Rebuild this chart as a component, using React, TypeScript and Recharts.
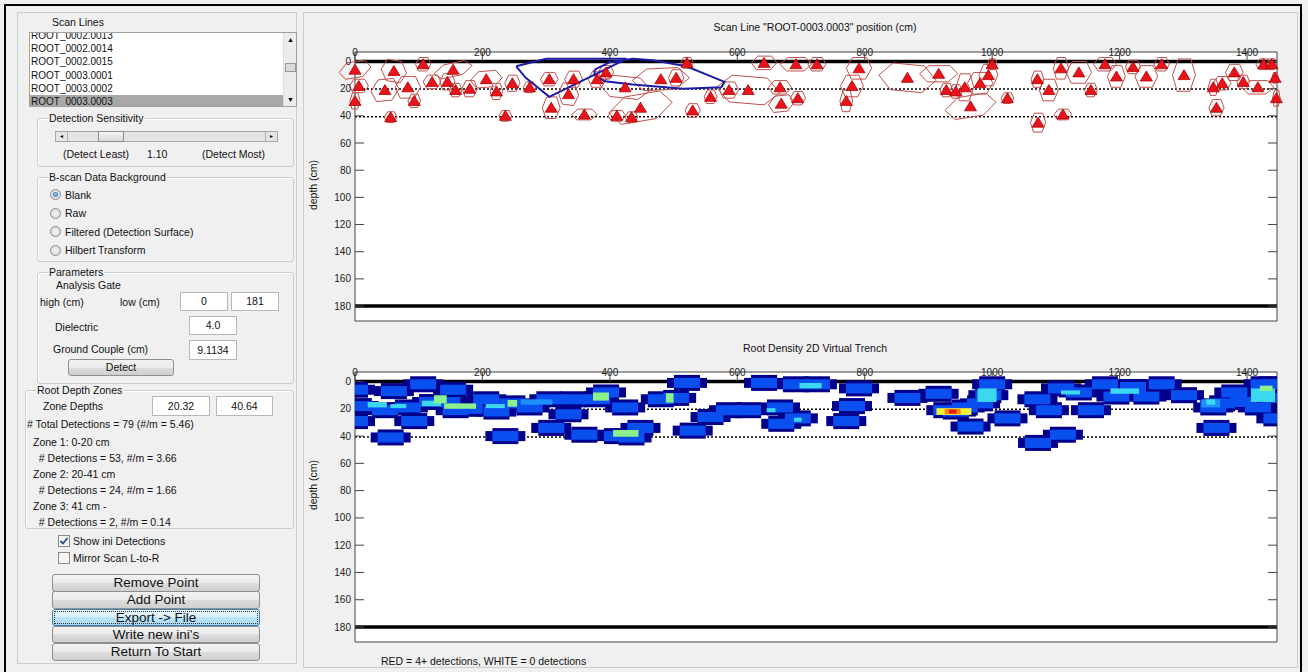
import React from 'react'
import { ScatterChart, Scatter, XAxis, YAxis, ReferenceLine, CartesianGrid } from 'recharts'

const scanLines = ['ROOT_0002.0013', 'ROOT_0002.0014', 'ROOT_0002.0015', 'ROOT_0003.0001', 'ROOT_0003.0002', 'ROOT_0003.0003']
const backgrounds = ['Blank', 'Raw', 'Filtered (Detection Surface)', 'Hilbert Transform']
const zoneLines = [
	'Zone 1: 0-20 cm',
	'  # Detections = 53, #/m = 3.66',
	'Zone 2: 20-41 cm',
	'  # Detections = 24, #/m = 1.66',
	'Zone 3: 41 cm -',
	'  # Detections = 2, #/m = 0.14',
]
const buttons = ['Remove Point', 'Add Point', 'Export -> File', "Write new ini's", 'Return To Start']

const positionTicks = [0, 200, 400, 600, 800, 1000, 1200, 1400]
const depthTicks = [0, 20, 40, 60, 80, 100, 120, 140, 160, 180]
const positionDomain = [0, 1447]
const depthDomain = [-7, 191]
const groundLines = [0, 180]
const zoneDepths = [20.32, 40.64]

// detection: [position, depth, outline half-width, outline half-height, outline tilt]  (cm)
const detections = [
	[0, 6, 25, 6, 4], [6, 18, 15, 5, 0], [0, 29, 8, 6, 0], [61, 7, 20, 8, -3], [107, 2, 12, 5, 0],
	[47, 21, 22, 8, 2], [56, 41, 10, 4, 0], [83, 19, 20, 8, 0], [93, 29, 10, 5, 0], [121, 15, 14, 5, 0],
	[145, 15, 12, 6, 0], [154, 6, 30, 5, 6], [158, 21, 10, 5, 0], [180, 20, 12, 6, 0], [206, 13, 25, 6, 2],
	[222, 22, 10, 6, 0], [236, 40, 10, 4, 0], [247, 16, 12, 6, 0], [274, 19, 10, 4, 0], [305, 13, 14, 5, 0],
	[308, 34, 14, 8, 0], [335, 24, 16, 8, -2], [343, 13, 14, 6, 0], [360, 39, 20, 4, 0], [380, 13, 14, 6, 0],
	[394, 8, 12, 5, 0], [411, 40, 14, 4, 0], [424, 19, 40, 8, -4], [434, 41, 10, 4, 0], [448, 34, 50, 10, 8],
	[480, 13, 45, 8, 2], [504, 12, 12, 6, 0], [521, 1, 10, 4, 0], [530, 36, 12, 5, 0], [558, 26, 10, 5, 0],
	[587, 21, 15, 6, 0], [617, 21, 50, 10, -4], [642, 1, 20, 5, 0], [667, 19, 18, 5, 0], [669, 31, 20, 6, 2],
	[692, 2, 25, 5, 0], [695, 27, 12, 5, 0], [725, 2, 14, 5, 0], [791, 5, 20, 8, 0], [780, 18, 18, 8, 0],
	[771, 29, 10, 8, 0], [867, 12, 45, 10, -4], [916, 9, 30, 6, 0], [928, 21, 10, 5, 0], [943, 22, 10, 5, 0],
	[957, 19, 14, 10, 0], [981, 16, 20, 8, 0], [994, 10, 15, 8, 0], [1000, 2, 8, 4, 0], [966, 33, 40, 8, 6],
	[1024, 27, 10, 4, 0], [1071, 13, 10, 6, 0], [1072, 45, 12, 7, 0], [1089, 21, 15, 8, 0], [1108, 5, 12, 8, 0],
	[1111, 39, 14, 4, 0], [1136, 8, 20, 8, 0], [1155, 21, 10, 5, 0], [1177, 2, 18, 5, 0], [1195, 11, 14, 8, 0],
	[1221, 4, 12, 5, 0], [1242, 11, 18, 8, 0], [1266, 2, 12, 5, 0], [1301, 10, 18, 12, 0], [1347, 19, 8, 6, 0],
	[1361, 16, 14, 5, 0], [1352, 34, 12, 6, 0], [1380, 8, 14, 6, 0], [1394, 15, 10, 5, 0], [1417, 19, 25, 5, 0],
	[1426, 2, 12, 4, 0], [1439, 2, 8, 4, 0], [1444, 12, 5, 4, 0], [1446, 27, 6, 6, 0],
]

// hand drawn blue outlines [position, depth]
const outlineA = [[253, 3.5], [300, -2], [426, -2], [373, 10.4], [305, 26], [268, 12], [253, 3.5]]
const outlineB = [
	[376, 6], [400, 0.5], [436, -2], [468, -1], [520, 3.5], [580, 15], [575, 19],
	[515, 20], [436, 17], [392, 14.5], [376, 10], [376, 6],
]

// brighter cells of the density map: [position, depth, span x, span depth, level]
const densityPeaks = [
	[35, 17, 30, 4, 2], [68, 18, 25, 3, 2], [120, 16, 30, 4, 2], [134, 13, 20, 6, 3], [165, 18, 50, 4, 3],
	[220, 18, 30, 3, 2], [247, 16, 15, 5, 3], [285, 15, 50, 4, 1], [386, 11, 25, 6, 3], [494, 12, 12, 7, 3],
	[425, 38, 40, 5, 3], [653, 21, 14, 3, 2], [695, 28, 12, 3, 2], [715, 3, 35, 4, 2], [940, 22, 55, 5, 4],
	[938, 22, 25, 4, 5], [938, 22, 12, 3, 6], [992, 10, 30, 10, 2], [1123, 8, 30, 3, 2], [1208, 7, 45, 4, 2],
	[1343, 16, 30, 6, 1], [1343, 15, 14, 4, 2], [1425, 10, 38, 10, 2], [1430, 5, 20, 4, 3],
]

const detectionRows = detections.map(([x, d, w, h, t]) => ({ x, d, w, h, t }))
const outlineRowsA = outlineA.map(([x, d]) => ({ x, d }))
const outlineRowsB = outlineB.map(([x, d]) => ({ x, d }))
const peakRows = densityPeaks.map(([x, d, w, h, level]) => ({ x, d, w, h, level }))

const KX = 920 / (positionDomain[1] - positionDomain[0])
const KY = 267 / (depthDomain[1] - depthDomain[0])
const heatColors = ['#00008c', '#1e90ff', '#3cd8f0', '#8cf08c', '#f0f03c', '#ff8c00', '#e02010']
const FONT = '"Liberation Sans", Arial, sans-serif'

const Triangle = (p: any) => (
	<path
		d={`M${p.cx},${p.cy - 5.5} L${p.cx + 6},${p.cy + 4.5} L${p.cx - 6},${p.cy + 4.5} Z`}
		fill="#e8141c"
		stroke="#b00000"
		strokeWidth={0.8}
	/>
)

const Outline = (p: any) => {
	const { cx, cy, payload } = p
	const w = payload.w * KX
	const h = payload.h * KY
	const t = payload.t * KY
	const pts = [
		[cx - w, cy + t * 0.5],
		[cx - 0.5 * w, cy - h + t * 0.25],
		[cx + 0.6 * w, cy - h - t * 0.3],
		[cx + w, cy - t * 0.5],
		[cx + 0.5 * w, cy + h - t * 0.25],
		[cx - 0.6 * w, cy + h + t * 0.3],
	]
	return (
		<polygon
			points={pts.map((q) => q.join(',')).join(' ')}
			fill="none"
			stroke="#c0504d"
			strokeWidth={1}
			strokeLinejoin="round"
		/>
	)
}

const BlobOuter = (p: any) => (
	<g fill="#00008c">
		<rect x={p.cx - 20} y={p.cy - 5} width={40} height={10} />
		<rect x={p.cx - 13} y={p.cy - 8} width={26} height={16} />
	</g>
)

const BlobInner = (p: any) => <rect x={p.cx - 13} y={p.cy - 5} width={26} height={10} fill="#0a50f0" />

const Peak = (p: any) => {
	const { cx, cy, payload } = p
	const w = payload.w * KX
	const h = payload.h * KY
	return <rect x={cx - w / 2} y={cy - h / 2} width={w} height={h} fill={heatColors[payload.level]} />
}

const Nothing = () => <g />

const tickText = { fill: '#222', fontSize: 10, fontFamily: FONT }

function Frame({ height, top, bottom, clip, children }: any) {
	return (
		<ScatterChart width={1308} height={height} margin={{ top, right: 31, bottom, left: 355 }}>
			<CartesianGrid horizontal={false} vertical={false} fill="#ffffff" />
			<XAxis
				type="number"
				dataKey="x"
				domain={positionDomain}
				ticks={positionTicks}
				orientation="top"
				height={1}
				mirror
				tickSize={9}
				tickMargin={-12}
				allowDataOverflow={clip}
				stroke="#444"
				tick={{ ...tickText, verticalAnchor: 'end' }}
			/>
			<XAxis
				xAxisId="b"
				type="number"
				domain={positionDomain}
				ticks={positionTicks}
				orientation="bottom"
				height={1}
				mirror
				tickSize={9}
				tickFormatter={() => ''}
				allowDataOverflow
				stroke="#444"
			/>
			<YAxis
				type="number"
				dataKey="d"
				domain={depthDomain}
				ticks={depthTicks}
				reversed
				width={1}
				mirror
				tickSize={9}
				tickMargin={-13}
				allowDataOverflow={clip}
				stroke="#444"
				tick={{ ...tickText, textAnchor: 'end' }}
			/>
			<YAxis
				yAxisId="r"
				type="number"
				domain={depthDomain}
				ticks={depthTicks}
				reversed
				orientation="right"
				width={1}
				mirror
				tickSize={9}
				tickFormatter={() => ''}
				allowDataOverflow
				stroke="#444"
			/>
			{children}
		</ScatterChart>
	)
}

const lines = () => [
	...groundLines.map((y) => <ReferenceLine key={'g' + y} y={y} stroke="#000" strokeWidth={3.5} />),
	...zoneDepths.map((y) => (
		<ReferenceLine key={'z' + y} y={y} stroke="#000" strokeWidth={1.5} strokeDasharray="2 2" />
	)),
]

// ---- little windows widgets ----
const Txt = ({ x, y, size = 10.5, children, style }: any) => (
	<div
		style={{
			position: 'absolute',
			left: x,
			top: y - size * 0.6,
			fontSize: size,
			lineHeight: 1.2,
			whiteSpace: 'pre',
			color: '#111',
			...style,
		}}
	>
		{children}
	</div>
)

const Group = ({ x, y, w, h, title }: any) => (
	<div
		style={{
			position: 'absolute',
			left: x,
			top: y,
			width: w,
			height: h,
			border: '1px solid #c9ced3',
			borderRadius: 3,
			boxShadow: 'inset 1px 1px 0 #fff',
		}}
	>
		<span
			style={{
				position: 'absolute',
				left: 10,
				top: -7,
				fontSize: 10.5,
				lineHeight: '13px',
				background: '#f0f0f0',
				padding: '0 1px',
				color: '#111',
			}}
		>
			{title}
		</span>
	</div>
)

const Edit = ({ x, y, w, h = 19, value }: any) => (
	<div
		style={{
			position: 'absolute',
			left: x,
			top: y,
			width: w,
			height: h,
			background: '#fff',
			border: '1px solid #b5b9bf',
			boxSizing: 'border-box',
			fontSize: 10.5,
			textAlign: 'center',
			lineHeight: `${h - 2}px`,
			color: '#111',
		}}
	>
		{value}
	</div>
)

const Button = ({ x, y, w, h, label, size = 10.5, focus }: any) => (
	<div
		style={{
			position: 'absolute',
			left: x,
			top: y,
			width: w,
			height: h,
			boxSizing: 'border-box',
			border: focus ? '1px solid #3c7fb1' : '1px solid #8e8f8f',
			borderRadius: 3,
			background: focus
				? 'linear-gradient(#eaf6fd, #d9f0fc 50%, #bee6fd 50%, #a7d9f5)'
				: 'linear-gradient(#f2f2f2, #ebebeb 50%, #dddddd 50%, #cfcfcf)',
			fontSize: size,
			textAlign: 'center',
			lineHeight: `${h - 2}px`,
			color: '#111',
			outline: focus ? '1px dotted #333' : 'none',
			outlineOffset: -3,
		}}
	>
		{label}
	</div>
)

const Radio = ({ x, y, checked }: any) => (
	<div
		style={{
			position: 'absolute',
			left: x,
			top: y - 6,
			width: 11,
			height: 11,
			borderRadius: '50%',
			border: '1px solid #8a8a8a',
			background: 'radial-gradient(#f4f4f4, #d4d4d4)',
			boxSizing: 'border-box',
		}}
	>
		{checked && (
			<div
				style={{
					position: 'absolute',
					left: 2,
					top: 2,
					width: 5,
					height: 5,
					borderRadius: '50%',
					background: 'radial-gradient(#8fd0ff, #1f5fb0)',
				}}
			/>
		)}
	</div>
)

const Check = ({ x, y, checked }: any) => (
	<svg style={{ position: 'absolute', left: x, top: y - 6 }} width={12} height={12}>
		<rect x={0.5} y={0.5} width={11} height={11} fill="#f4f4f4" stroke="#8a8a8a" />
		{checked && <path d="M2.5,6 L5,8.5 L9.5,3" fill="none" stroke="#2a4a8a" strokeWidth={1.8} />}
	</svg>
)

function LeftPanel() {
	return (
		<>
			<div
				style={{
					position: 'absolute',
					left: 17,
					top: 12,
					width: 280,
					height: 652,
					border: '1px solid #c9ced3',
					boxSizing: 'border-box',
				}}
			/>
			<Txt x={52} y={22}>Scan Lines</Txt>
			<div
				style={{
					position: 'absolute',
					left: 29,
					top: 32,
					width: 268,
					height: 75,
					background: '#fff',
					border: '1px solid #a0a0a0',
					boxSizing: 'border-box',
					overflow: 'hidden',
				}}
			>
				{scanLines.map((s, i) => (
					<div
						key={s}
						style={{
							position: 'absolute',
							left: 0,
							top: -4 + i * 13.2,
							width: 256,
							height: 13,
							fontSize: 10,
							lineHeight: '13px',
							paddingLeft: 1,
							background: i === scanLines.length - 1 ? '#a8a8a8' : 'transparent',
							color: '#111',
						}}
					>
						{s}
					</div>
				))}
				<div
					style={{
						position: 'absolute',
						right: 0,
						top: 0,
						width: 12,
						height: 73,
						background: '#ececec',
						borderLeft: '1px solid #ddd',
					}}
				>
					<div style={{ position: 'absolute', left: 3, top: 3, fontSize: 7 }}>▲</div>
					<div
						style={{
							position: 'absolute',
							left: 1,
							top: 30,
							width: 9,
							height: 7,
							background: '#dadada',
							border: '1px solid #999',
						}}
					/>
					<div style={{ position: 'absolute', left: 3, bottom: 3, fontSize: 7 }}>▼</div>
				</div>
			</div>

			<Group x={37} y={118} w={255} h={47} title="Detection Sensitivity" />
			<div
				style={{
					position: 'absolute',
					left: 55,
					top: 131,
					width: 223,
					height: 11,
					background: '#e4e4e4',
					border: '1px solid #a8a8a8',
					boxSizing: 'border-box',
				}}
			>
				<div style={{ position: 'absolute', left: 0, top: 0, width: 11, height: 9, borderRight: '1px solid #b0b0b0', fontSize: 6, textAlign: 'center', lineHeight: '9px' }}>◂</div>
				<div style={{ position: 'absolute', left: 42, top: -1, width: 26, height: 11, background: 'linear-gradient(#f6f6f6,#d8d8d8)', border: '1px solid #8e8e8e', boxSizing: 'border-box' }} />
				<div style={{ position: 'absolute', right: 0, top: 0, width: 11, height: 9, borderLeft: '1px solid #b0b0b0', fontSize: 6, textAlign: 'center', lineHeight: '9px' }}>▸</div>
			</div>
			<Txt x={63} y={154}>(Detect Least)</Txt>
			<Txt x={147} y={154}>1.10</Txt>
			<Txt x={202} y={154}>(Detect Most)</Txt>

			<Group x={37} y={177} w={255} h={83} title="B-scan Data Background" />
			{backgrounds.map((b, i) => (
				<React.Fragment key={b}>
					<Radio x={50} y={195 + i * 18.5} checked={i === 0} />
					<Txt x={65} y={195 + i * 18.5}>{b}</Txt>
				</React.Fragment>
			))}

			<Group x={37} y={272} w={255} h={110} title="Parameters" />
			<Txt x={56} y={285}>Analysis Gate</Txt>
			<Txt x={40} y={302}>high (cm)</Txt>
			<Txt x={120} y={302}>low (cm)</Txt>
			<Edit x={180} y={292} w={48} value="0" />
			<Edit x={231} y={292} w={48} value="181" />
			<Txt x={55} y={327}>Dielectric</Txt>
			<Edit x={189} y={316} w={48} value="4.0" />
			<Txt x={53} y={349}>Ground Couple (cm)</Txt>
			<Edit x={189} y={340} w={48} h={20} value="9.1134" />
			<Button x={68} y={359} w={106} h={17} label="Detect" />

			<Group x={25} y={390} w={267} h={137} title="Root Depth Zones" />
			<Txt x={43} y={406}>Zone Depths</Txt>
			<Edit x={152} y={396} w={58} h={20} value="20.32" />
			<Edit x={216} y={396} w={57} h={20} value="40.64" />
			<Txt x={27} y={424}># Total Detections = 79 (#/m = 5.46)</Txt>
			{zoneLines.map((s, i) => (
				<Txt key={s} x={33} y={442 + i * 16}>{s}</Txt>
			))}

			<Check x={58} y={541} checked />
			<Txt x={73} y={541}>Show ini Detections</Txt>
			<Check x={58} y={558} checked={false} />
			<Txt x={73} y={558}>Mirror Scan L-to-R</Txt>

			{buttons.map((b, i) => (
				<Button key={b} x={52} y={574 + i * 17.3} w={208} h={17.5} label={b} size={13.5} focus={i === 2} />
			))}
		</>
	)
}

export default function App() {
	return (
		<div
			style={{
				position: 'absolute',
				left: 0,
				top: 0,
				width: 1308,
				height: 672,
				background: '#f0f0f0',
				fontFamily: FONT,
				overflow: 'hidden',
			}}
		>
			<div
				style={{
					position: 'absolute',
					left: 4,
					top: 4,
					width: 1298,
					height: 700,
					border: '2px solid #000',
					boxSizing: 'border-box',
				}}
			/>
			<div
				style={{
					position: 'absolute',
					left: 303,
					top: 12,
					width: 995,
					height: 656,
					border: '1px solid #c9ced3',
					boxSizing: 'border-box',
				}}
			/>
			<LeftPanel />

			<div style={{ position: 'absolute', left: 0, top: 0 }}>
				<Frame height={340} top={52} bottom={19} clip={false}>
					{lines()}
					<Scatter data={detectionRows} shape={Outline} isAnimationActive={false} />
					<Scatter
						data={outlineRowsA}
						shape={Nothing}
						line={{ stroke: '#1c1ca8', strokeWidth: 2 }}
						lineType="joint"
						isAnimationActive={false}
					/>
					<Scatter
						data={outlineRowsB}
						shape={Nothing}
						line={{ stroke: '#1c1ca8', strokeWidth: 2 }}
						lineType="joint"
						isAnimationActive={false}
					/>
					<Scatter data={detectionRows} shape={Triangle} isAnimationActive={false} />
				</Frame>
			</div>

			<div style={{ position: 'absolute', left: 0, top: 340 }}>
				<Frame height={320} top={32} bottom={18} clip>
					<Scatter data={detectionRows} shape={BlobOuter} isAnimationActive={false} />
					<Scatter data={detectionRows} shape={BlobInner} isAnimationActive={false} />
					<Scatter data={peakRows} shape={Peak} isAnimationActive={false} />
					{lines()}
				</Frame>
			</div>

			<Txt x={615} y={27} style={{ width: 400, textAlign: 'center', fontSize: 10.5 }}>
				Scan Line "ROOT-0003.0003" position (cm)
			</Txt>
			<Txt x={615} y={348} style={{ width: 400, textAlign: 'center', fontSize: 10.5 }}>
				Root Density 2D Virtual Trench
			</Txt>
			{[185, 485].map((cy) => (
				<div
					key={cy}
					style={{
						position: 'absolute',
						left: 283,
						top: cy - 7,
						width: 60,
						height: 14,
						fontSize: 10.5,
						lineHeight: '14px',
						textAlign: 'center',
						transform: 'rotate(-90deg)',
						color: '#111',
					}}
				>
					depth (cm)
				</div>
			))}
			<Txt x={381} y={661}>RED = 4+ detections, WHITE = 0 detections</Txt>
		</div>
	)
}
